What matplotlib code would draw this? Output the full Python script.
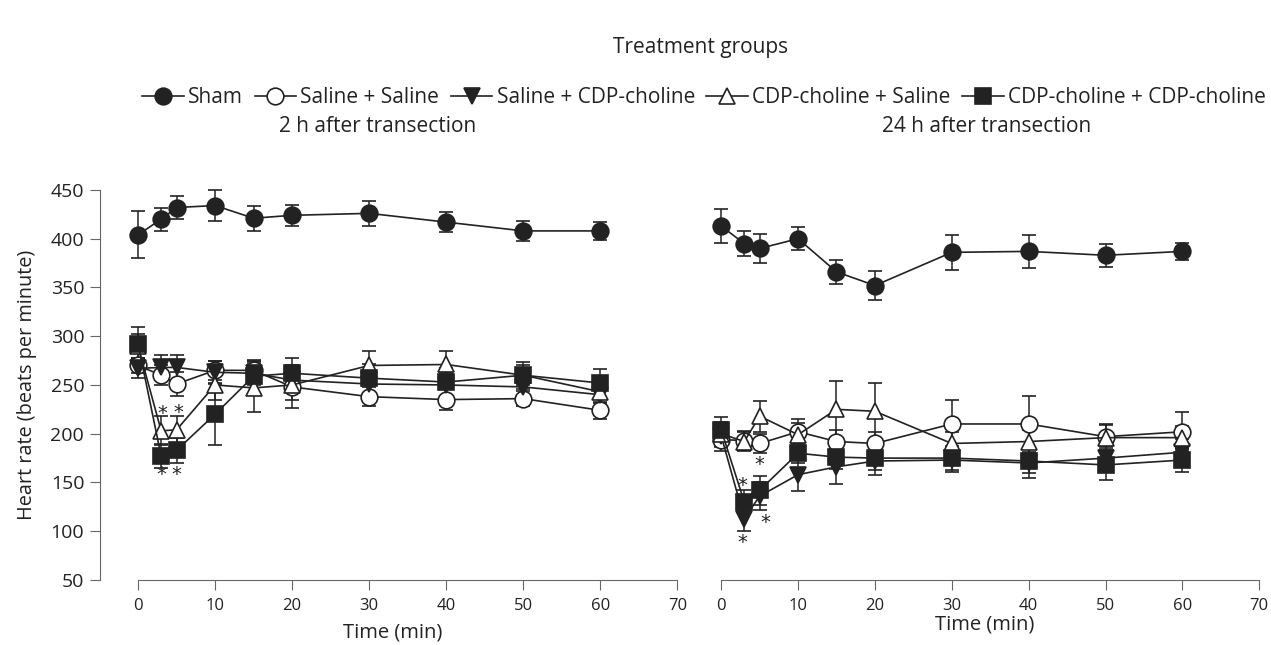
import matplotlib
matplotlib.use('Agg')
import matplotlib.pyplot as plt
from matplotlib.lines import Line2D

plt.rcParams['font.family'] = ['Open Sans', 'DejaVu Sans']

# time points (min)
times = [0, 3, 5, 10, 15, 20, 30, 40, 50, 60]

groups = ['Sham', 'Saline + Saline', 'Saline + CDP-choline',
          'CDP-choline + Saline', 'CDP-choline + CDP-choline']

# 2 h after transection: mean and SEM
sham_2h = [404, 420, 432, 434, 421, 424, 426, 417, 408, 408]
sham_2h_err = [24, 12, 12, 16, 13, 11, 13, 10, 10, 9]
salsal_2h = [270, 260, 251, 265, 265, 248, 238, 235, 236, 224]
salsal_2h_err = [8, 10, 12, 10, 10, 22, 10, 11, 8, 9]
salcdp_2h = [267, 268, 268, 263, 262, 255, 251, 250, 248, 240]
salcdp_2h_err = [10, 13, 13, 12, 12, 12, 12, 12, 12, 12]
cdpsal_2h = [290, 203, 204, 250, 247, 250, 270, 271, 260, 243]
cdpsal_2h_err = [12, 15, 14, 15, 25, 15, 15, 14, 10, 12]
cdpcdp_2h = [292, 177, 183, 220, 259, 262, 257, 253, 260, 252]
cdpcdp_2h_err = [17, 12, 13, 32, 17, 16, 15, 14, 14, 14]

# 24 h after transection: mean and SEM
sham_24h = [413, 395, 390, 400, 366, 352, 386, 387, 383, 387]
sham_24h_err = [17, 13, 15, 12, 12, 15, 18, 17, 12, 9]
salsal_24h = [194, 193, 190, 202, 192, 190, 210, 210, 197, 202]
salsal_24h_err = [12, 10, 10, 13, 12, 12, 25, 29, 12, 20]
salcdp_24h = [198, 113, 136, 158, 166, 172, 173, 170, 175, 181]
salcdp_24h_err = [12, 13, 14, 17, 18, 14, 12, 15, 12, 14]
cdpsal_24h = [200, 192, 218, 199, 225, 223, 190, 192, 196, 196]
cdpsal_24h_err = [12, 10, 16, 12, 29, 29, 12, 12, 14, 12]
cdpcdp_24h = [204, 130, 142, 180, 176, 175, 175, 172, 168, 173]
cdpcdp_24h_err = [13, 12, 15, 10, 12, 12, 12, 12, 15, 12]

dark = '#222222'
axis_col = '#666666'
styles = [('o', dark), ('o', 'white'), ('v', dark), ('^', 'white'), ('s', dark)]

fig = plt.figure(figsize=(12.71, 6.45), dpi=100)
ax1 = fig.add_axes([0.0783, 0.1008, 0.4607, 0.6047])
ax2 = fig.add_axes([0.5523, 0.1008, 0.4445, 0.6047])


def draw(ax, series):
    for (mk, fc), (vals, errs) in zip(styles, series):
        ax.errorbar(times, vals, yerr=errs, fmt='-', marker=mk, color=dark,
                    mfc=fc, mec=dark, mew=1.2, ms=12 if mk != 's' else 11,
                    lw=1.2, ecolor=dark, elinewidth=1.1, capsize=5,
                    capthick=1.1, clip_on=False)


draw(ax1, [(sham_2h, sham_2h_err), (salsal_2h, salsal_2h_err),
           (salcdp_2h, salcdp_2h_err), (cdpsal_2h, cdpsal_2h_err),
           (cdpcdp_2h, cdpcdp_2h_err)])
draw(ax2, [(sham_24h, sham_24h_err), (salsal_24h, salsal_24h_err),
           (salcdp_24h, salcdp_24h_err), (cdpsal_24h, cdpsal_24h_err),
           (cdpcdp_24h, cdpcdp_24h_err)])

# significance stars (index into times, offset in x and y)
stars_2h = [(cdpsal_2h, 1, 0.1, 18), (cdpsal_2h, 2, 0.2, 18),
            (cdpcdp_2h, 1, 0.0, -19), (cdpcdp_2h, 2, 0.0, -25)]
stars_24h = [(cdpcdp_24h, 1, -0.2, 17), (cdpcdp_24h, 2, 0.0, 26),
             (salcdp_24h, 1, -0.3, -25), (salcdp_24h, 2, 0.7, -27)]
for ax, stars in [(ax1, stars_2h), (ax2, stars_24h)]:
    for vals, i, dx, dy in stars:
        ax.text(times[i] + dx, vals[i] + dy, '*', ha='center', va='center',
                fontsize=14, color=dark, family='DejaVu Sans')

ax1.set_xlim(-5, 71)
ax2.set_xlim(-2.5, 71)
for ax in (ax1, ax2):
    ax.set_ylim(50, 450)
    ax.set_xticks(range(0, 71, 10))
    ax.spines['top'].set_visible(False)
    ax.spines['right'].set_visible(False)
    ax.spines['bottom'].set_bounds(0, 70)
    ax.spines['bottom'].set_color(axis_col)
    ax.spines['left'].set_color(axis_col)
    ax.tick_params(axis='x', direction='out', length=7, color=axis_col,
                   labelsize=12, labelcolor=dark, pad=6)
    ax.tick_params(axis='y', direction='out', length=7, color=axis_col,
                   labelsize=14, labelcolor=dark, pad=4)
    ax.patch.set_visible(False)

ax1.set_yticks(range(50, 451, 50))
ax1.set_ylabel('Heart rate (beats per minute)', fontsize=14.3, color=dark,
               labelpad=10)
ax2.spines['left'].set_visible(False)
ax2.tick_params(axis='y', left=False, labelleft=False)

ax1.set_xlabel('Time (min)', fontsize=14.5, color=dark, labelpad=6)
ax2.set_xlabel('Time (min)', fontsize=14.5, color=dark, labelpad=0)

fig.text(0.297, 0.804, '2 h after transection', ha='center', va='center',
         fontsize=15, color=dark)
fig.text(0.776, 0.804, '24 h after transection', ha='center', va='center',
         fontsize=15, color=dark)
fig.text(0.551, 0.926, 'Treatment groups', ha='center', va='center',
         fontsize=15, color=dark)

handles = [Line2D([], [], color=dark, lw=1.2, marker=mk, mfc=fc, mec=dark,
                  ms=12 if mk != 's' else 11, mew=1.2)
           for mk, fc in styles]
fig.legend(handles, groups, loc='center', bbox_to_anchor=(0.554, 0.849),
           ncol=5, frameon=False, fontsize=15, handlelength=2.0,
           handletextpad=0.2, columnspacing=0.55, labelcolor=dark)

fig.savefig('out.png', dpi=100)
